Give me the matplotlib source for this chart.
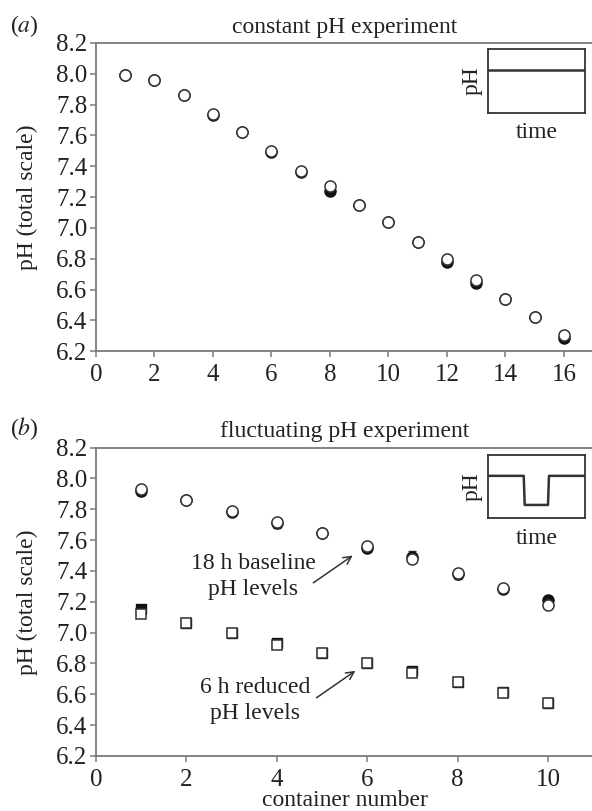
import numpy as np
import matplotlib
matplotlib.use("Agg")
import matplotlib.pyplot as plt

plt.rcParams['font.family'] = ['Liberation Serif', 'DejaVu Serif']
plt.rcParams['mathtext.fontset'] = 'stix'
plt.rcParams['font.size'] = 17

# === data: (a) constant pH ===
a_x = list(range(1, 17))
a_open = [7.99, 7.96, 7.86, 7.74, 7.62, 7.50, 7.37, 7.27, 7.15, 7.04, 6.91, 6.80, 6.665, 6.54, 6.42, 6.305]
a_fill = [7.99, 7.96, 7.86, 7.735, 7.62, 7.495, 7.36, 7.24, 7.15, 7.04, 6.91, 6.78, 6.645, 6.54, 6.42, 6.285]
a_err = [0.025, 0.01, 0.01, 0.01, 0.01, 0.01, 0.01, 0.01, 0.01, 0.01, 0.01, 0.01, 0.01, 0.01, 0.01, 0.01]

# === data: (b) fluctuating pH ===
b_x = list(range(1, 11))
b_base_open = [7.93, 7.86, 7.79, 7.72, 7.645, 7.56, 7.48, 7.385, 7.29, 7.18]
b_base_fill = [7.92, 7.86, 7.78, 7.71, 7.645, 7.55, 7.49, 7.38, 7.28, 7.21]
b_base_err = [0.025, 0.015, 0.02, 0.03, 0.02, 0.03, 0.04, 0.03, 0.025, 0.03]
b_red_open = [7.12, 7.065, 6.995, 6.92, 6.865, 6.805, 6.74, 6.68, 6.61, 6.54]
b_red_fill = [7.15, 7.065, 6.995, 6.93, 6.865, 6.805, 6.75, 6.68, 6.615, 6.54]
b_red_err = [0.015, 0.01, 0.01, 0.015, 0.01, 0.01, 0.015, 0.01, 0.015, 0.01]

# inset schematics (time, pH), arbitrary units
ins_a_t = [0.0, 1.0]
ins_a_ph = [0.67, 0.67]
ins_b_t = [0.0, 0.37, 0.38, 0.62, 0.63, 1.0]
ins_b_ph = [0.67, 0.67, 0.21, 0.21, 0.67, 0.67]

yticks = [6.2, 6.4, 6.6, 6.8, 7.0, 7.2, 7.4, 7.6, 7.8, 8.0, 8.2]
SPINE = '#7a7a7a'
TXT = '#222222'
FS = 17

fig = plt.figure(figsize=(5.92, 8.11), dpi=100)


def style_axes(ax, xmax, xticks):
    ax.set_ylim(6.2, 8.2)
    ax.set_xlim(0, xmax)
    ax.set_yticks(yticks)
    ax.set_yticklabels([f"{v:.1f}" for v in yticks])
    ax.set_xticks(xticks)
    for s in ['left', 'bottom', 'top']:
        ax.spines[s].set_color(SPINE)
        ax.spines[s].set_linewidth(1.3)
    ax.spines['right'].set_visible(False)
    ax.tick_params(direction='out', length=4, width=1.1, color=SPINE,
                   labelcolor=TXT, labelsize=18, pad=2)
    ax.tick_params(axis='x', pad=5.5)
    ax.set_ylabel("pH (total scale)", fontsize=FS, color=TXT, labelpad=13)


def draw_series(ax, x, fill, opn, err, marker, ms):
    ax.errorbar(x, fill, yerr=err, fmt=marker, ms=ms, mfc='#111111', mec='#111111',
                ecolor='#333333', elinewidth=1, capsize=3, zorder=3)
    ax.plot(x, opn, marker, ms=ms, mfc='white', mec='#333333', mew=1.1, zorder=4)


def inset(rect, t, ph):
    ia = fig.add_axes(rect)
    ia.plot(t, ph, color='#333333', lw=1.8)
    ia.set_xlim(0, 1)
    ia.set_ylim(0, 1)
    ia.set_xticks([])
    ia.set_yticks([])
    for s in ia.spines.values():
        s.set_color('#333333')
        s.set_linewidth(1.3)
    ia.set_ylabel("pH", fontsize=FS, color=TXT, labelpad=4)
    ia.set_xlabel("time", fontsize=FS, color=TXT, labelpad=7)
    return ia


# ---- panel a ----
ax1 = fig.add_axes([0.162, 0.567, 0.84, 0.380])
style_axes(ax1, 17, list(range(0, 17, 2)))
draw_series(ax1, a_x, a_fill, a_open, a_err, 'o', 8)
ax1.set_title("constant pH experiment", fontsize=FS, color=TXT, pad=7)
fig.text(0.017, 0.968, r"($\mathit{a}$)", fontsize=FS, color=TXT, va='center')
inset([0.824, 0.861, 0.164, 0.078], ins_a_t, ins_a_ph)

# ---- panel b ----
ax2 = fig.add_axes([0.162, 0.068, 0.84, 0.380])
style_axes(ax2, 11, list(range(0, 11, 2)))
draw_series(ax2, b_x, b_base_fill, b_base_open, b_base_err, 'o', 8)
draw_series(ax2, b_x, b_red_fill, b_red_open, b_red_err, 's', 7)
ax2.set_title("fluctuating pH experiment", fontsize=FS, color=TXT, pad=8)
ax2.set_xlabel("container number", fontsize=FS, color=TXT, labelpad=-1)
fig.text(0.017, 0.471, r"($\mathit{b}$)", fontsize=FS, color=TXT, va='center')
inset([0.824, 0.361, 0.164, 0.078], ins_b_t, ins_b_ph)

arrow = dict(arrowstyle='->', color='#333333', lw=1.1, shrinkA=0, shrinkB=0,
             mutation_scale=14)
ax2.text(3.48, 7.365, "18 h baseline\npH levels", ha='center', va='center',
         fontsize=FS, color=TXT, linespacing=1.35)
ax2.annotate("", xy=(5.68, 7.50), xytext=(4.81, 7.323), arrowprops=arrow)
ax2.text(3.53, 6.56, "6 h reduced\npH levels", ha='center', va='center',
         fontsize=FS, color=TXT, linespacing=1.35)
ax2.annotate("", xy=(5.74, 6.752), xytext=(4.88, 6.577), arrowprops=arrow)

fig.savefig("out.png", dpi=100)
